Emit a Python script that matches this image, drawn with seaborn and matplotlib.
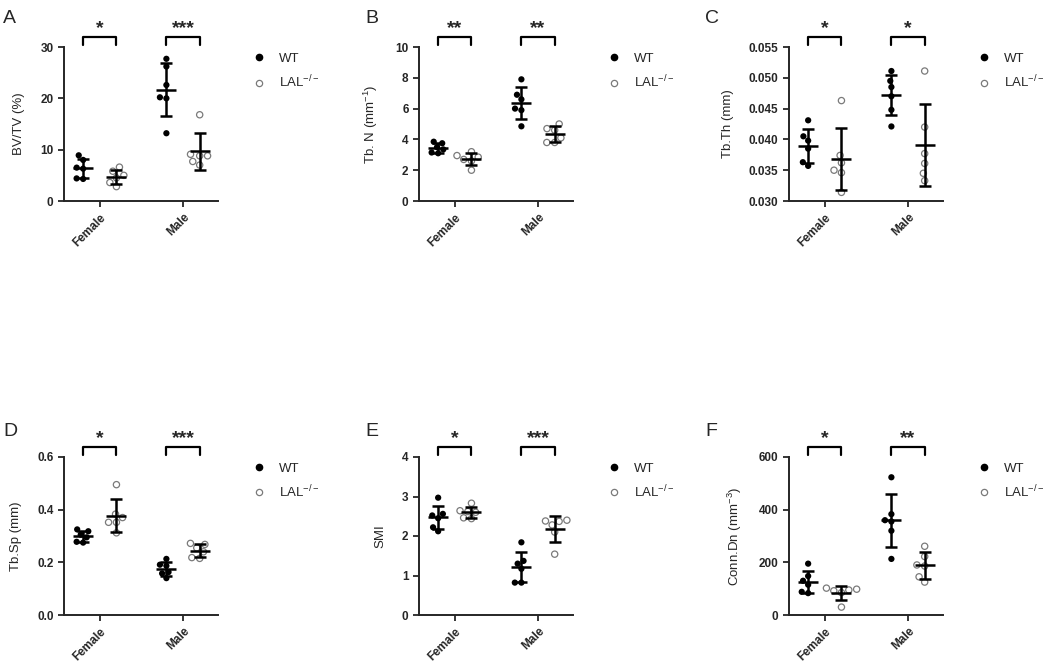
import pandas as pd
import matplotlib
matplotlib.use("Agg")
import matplotlib.pyplot as plt
import matplotlib.transforms as mtransforms
from matplotlib.lines import Line2D
import seaborn as sns

sexes = ["Female", "Male"]
genotypes = ["WT", "LAL"]

# values (female, male) per genotype
bvtv_wt = [[8.9, 8.0, 6.3, 6.5, 4.3, 4.4], [27.7, 26.2, 22.6, 20.2, 20.0, 13.2]]
bvtv_lal = [[6.6, 5.8, 5.0, 4.5, 3.6, 2.8], [16.8, 8.8, 8.8, 7.7, 7.0, 9.1]]

tbn_wt = [[3.85, 3.75, 3.5, 3.35, 3.15, 3.1], [7.9, 6.9, 6.6, 6.0, 5.9, 4.85]]
tbn_lal = [[3.2, 2.95, 2.85, 2.7, 2.6, 2.0], [5.0, 4.7, 4.6, 4.1, 3.8, 3.8]]

tbth_wt = [[0.0431, 0.0405, 0.0398, 0.0385, 0.0363, 0.0357],
           [0.0511, 0.0495, 0.0485, 0.0470, 0.0448, 0.0421]]
tbth_lal = [[0.0463, 0.0374, 0.0362, 0.0350, 0.0346, 0.0314],
            [0.0511, 0.0420, 0.0377, 0.0361, 0.0345, 0.0333]]

tbsp_wt = [[0.325, 0.318, 0.305, 0.295, 0.278, 0.275],
           [0.213, 0.191, 0.187, 0.163, 0.158, 0.140]]
tbsp_lal = [[0.495, 0.383, 0.370, 0.352, 0.352, 0.312],
            [0.272, 0.268, 0.255, 0.240, 0.218, 0.215]]

smi_wt = [[2.97, 2.56, 2.52, 2.45, 2.22, 2.12], [1.84, 1.37, 1.30, 1.17, 0.82, 0.82]]
smi_lal = [[2.83, 2.64, 2.62, 2.60, 2.46, 2.44], [2.40, 2.38, 2.37, 2.28, 2.10, 1.54]]

conn_wt = [[195, 148, 130, 115, 88, 83], [523, 383, 360, 355, 320, 213]]
conn_lal = [[102, 98, 95, 92, 85, 30], [261, 222, 190, 186, 145, 125]]

stars_a = ["*", "***"]
stars_b = ["**", "**"]
stars_c = ["*", "*"]
stars_d = ["*", "***"]
stars_e = ["*", "***"]
stars_f = ["*", "**"]


def to_long(wt, lal):
    rows = []
    for g, vals in zip(genotypes, [wt, lal]):
        for s, group in zip(sexes, vals):
            for v in group:
                rows.append({"sex": s, "genotype": g, "value": v})
    return pd.DataFrame(rows)


sns.set_style("ticks")
plt.rcParams["font.family"] = ["Liberation Sans", "DejaVu Sans"]
plt.rcParams["mathtext.default"] = "regular"

fig = plt.figure(figsize=(10.5, 6.68), dpi=100)

panels = [
    ("A", bvtv_wt, bvtv_lal, "BV/TV (%)", (0, 30), [0, 10, 20, 30], "{:.0f}", stars_a),
    ("B", tbn_wt, tbn_lal, "Tb. N (mm$^{-1}$)", (0, 10), [0, 2, 4, 6, 8, 10], "{:.0f}", stars_b),
    ("C", tbth_wt, tbth_lal, "Tb.Th (mm)", (0.030, 0.055),
     [0.030, 0.035, 0.040, 0.045, 0.050, 0.055], "{:.3f}", stars_c),
    ("D", tbsp_wt, tbsp_lal, "Tb.Sp (mm)", (0, 0.6), [0.0, 0.2, 0.4, 0.6], "{:.1f}", stars_d),
    ("E", smi_wt, smi_lal, "SMI", (0, 4), [0, 1, 2, 3, 4], "{:.0f}", stars_e),
    ("F", conn_wt, conn_lal, "Conn.Dn (mm$^{-3}$)", (0, 600), [0, 200, 400, 600], "{:.0f}", stars_f),
]

lefts = [64, 419, 789]
letter_x = [3, 365, 705]
W, H = 1050, 668

for k, (letter, wt, lal, ylabel, ylim, yticks, fmt, stars) in enumerate(panels):
    row, col = divmod(k, 3)
    top = 47 if row == 0 else 457
    bottom = 201 if row == 0 else 615
    ax = fig.add_axes([lefts[col] / W, 1 - bottom / H, 154 / W, (bottom - top) / H])
    df = to_long(wt, lal)

    sns.swarmplot(data=df, x="sex", y="value", hue="genotype", order=sexes,
                  hue_order=genotypes, palette={"WT": "black", "LAL": "white"},
                  dodge=True, size=4.5, ax=ax, legend=False, warn_thresh=1)
    for c in ax.collections:
        fc = c.get_facecolor()
        if len(fc) and fc[0][0] > 0.5:
            c.set_edgecolor("#7a7a7a")
            c.set_linewidth(0.9)
        else:
            c.set_linewidth(0)

    # mean and SD
    stats = df.groupby(["sex", "genotype"])["value"].agg(["mean", "std"])
    for i, s in enumerate(sexes):
        for j, g in enumerate(genotypes):
            xpos = i + (-0.2 if j == 0 else 0.2)
            m, sd = stats.loc[(s, g), "mean"], stats.loc[(s, g), "std"]
            ax.errorbar(xpos, m, yerr=sd, fmt="none", ecolor="black",
                        elinewidth=1.8, capsize=4, capthick=1.8, zorder=5)
            ax.hlines(m, xpos - 0.12, xpos + 0.12, color="black", lw=1.8, zorder=5)

    # significance brackets
    trans = mtransforms.blended_transform_factory(ax.transData, ax.transAxes)
    for i, st in enumerate(stars):
        x0, x1 = i - 0.2, i + 0.2
        ax.plot([x0, x0, x1, x1], [1.015, 1.064, 1.064, 1.015], color="black",
                lw=1.6, transform=trans, clip_on=False)
        ax.text(i, 1.088, st, transform=trans, ha="center", va="baseline",
                fontsize=14, fontweight="bold")

    ax.set_xlim(-0.43, 1.42)
    ax.set_ylim(*ylim)
    ax.set_yticks(yticks)
    ax.set_yticklabels([fmt.format(t) for t in yticks], fontweight="bold", fontsize=8.5)
    ax.set_xticks([0, 1])
    ax.set_xticklabels(sexes, rotation=45, ha="right", rotation_mode="anchor",
                       fontweight="bold", fontsize=8.5)
    ax.set_xlabel("")
    ax.set_ylabel(ylabel, fontsize=9.5, labelpad=11)
    sns.despine(ax=ax)
    for sp in ["left", "bottom"]:
        ax.spines[sp].set_linewidth(1.4)
    ax.tick_params(width=1.3, length=4)

    handles = [
        Line2D([], [], marker="o", ls="", color="black", markersize=4.5),
        Line2D([], [], marker="o", ls="", markerfacecolor="white",
               markeredgecolor="#7a7a7a", markeredgewidth=0.9, markersize=4.5),
    ]
    ax.legend(handles, ["WT", "LAL$^{-/-}$"], loc="upper left",
              bbox_to_anchor=(1.155, 1.04), frameon=False, fontsize=9.5,
              handlelength=0.8, handletextpad=1.1, labelspacing=0.65)

    letter_top = 10 if row == 0 else 423
    fig.text(letter_x[col] / W, 1 - letter_top / H, letter, fontsize=14,
             va="top", ha="left")

fig.savefig("out.png", dpi=100)
